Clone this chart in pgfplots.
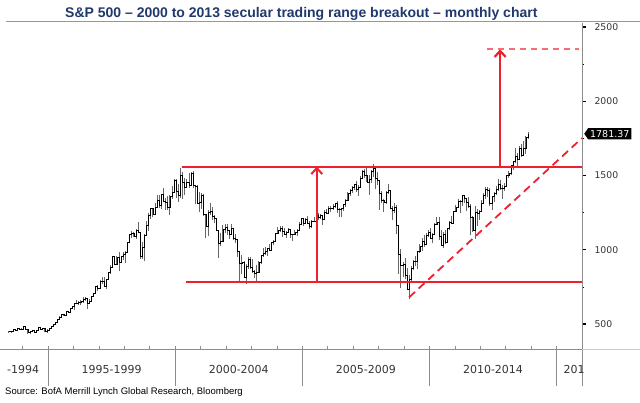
\documentclass[border=0pt]{standalone}
\usepackage{fontspec}
\setmainfont{Liberation Sans}
\newfontfamily\dejavu{DejaVu Sans}
\usepackage{pgfplots}
\pgfplotsset{compat=1.18}
\usepackage{pgfplotstable}
\usetikzlibrary{arrows.meta,shapes.symbols}
\definecolor{navy}{RGB}{31,56,110}
\definecolor{rline}{RGB}{238,32,45}
\definecolor{rlight}{RGB}{244,110,115}
\definecolor{sepc}{RGB}{125,155,195}
\definecolor{axgray}{RGB}{140,140,140}

\pgfplotstableread{
yr m c h l
1993 6 450.5 451 439
1993 7 448.1 451 441
1993 8 463.6 464 447
1993 9 458.9 463 452
1993 10 467.8 470 457
1993 11 461.8 469 460
1993 12 466.5 472 461
1994 1 481.6 482 463
1994 2 467.1 483 464
1994 3 445.8 468 436
1994 4 450.9 452 435
1994 5 456.5 458 445
1994 6 444.3 460 441
1994 7 458.3 459 443
1994 8 475.5 476 457
1994 9 462.7 476 460
1994 10 472.4 474 460
1994 11 453.7 474 448
1994 12 459.3 464 443
1995 1 470.4 472 459
1995 2 487.4 489 470
1995 3 500.7 503 485
1995 4 514.7 516 500
1995 5 533.4 535 511
1995 6 544.8 552 530
1995 7 562.1 564 544
1995 8 561.9 564 553
1995 9 584.4 587 560
1995 10 581.5 588 574
1995 11 605.4 608 580
1995 12 615.9 622 604
1996 1 636.0 636 597
1996 2 640.4 664 634
1996 3 645.5 656 627
1996 4 654.2 660 625
1996 5 669.1 680 645
1996 6 670.6 680 658
1996 7 639.9 672 601
1996 8 652.0 666 639
1996 9 687.3 690 649
1996 10 705.3 708 684
1996 11 757.0 758 703
1996 12 740.7 762 722
1997 1 786.2 794 737
1997 2 790.8 818 773
1997 3 757.1 816 755
1997 4 801.3 805 733
1997 5 848.3 851 798
1997 6 885.1 898 837
1997 7 954.3 957 882
1997 8 899.5 961 898
1997 9 947.3 960 897
1997 10 914.6 983 855
1997 11 955.4 961 910
1997 12 970.4 987 929
1998 1 980.3 992 912
1998 2 1049.3 1051 979
1998 3 1101.8 1106 1045
1998 4 1111.8 1124 1077
1998 5 1090.8 1122 1085
1998 6 1133.8 1139 1075
1998 7 1120.7 1190 1117
1998 8 957.3 1121 939
1998 9 1017.0 1052 940
1998 10 1098.7 1104 923
1998 11 1163.6 1193 1093
1998 12 1229.2 1245 1129
1999 1 1279.6 1280 1205
1999 2 1238.3 1282 1220
1999 3 1286.4 1317 1234
1999 4 1335.2 1370 1281
1999 5 1301.8 1368 1281
1999 6 1372.7 1374 1277
1999 7 1328.7 1419 1328
1999 8 1320.4 1347 1268
1999 9 1282.7 1362 1268
1999 10 1362.9 1367 1233
1999 11 1388.9 1428 1342
1999 12 1469.3 1474 1387
2000 1 1394.5 1478 1351
2000 2 1366.4 1445 1325
2000 3 1498.6 1553 1346
2000 4 1452.4 1527 1339
2000 5 1420.6 1481 1370
2000 6 1454.6 1475 1415
2000 7 1430.8 1517 1414
2000 8 1517.7 1525 1430
2000 9 1436.5 1531 1419
2000 10 1429.4 1437 1305
2000 11 1315.2 1434 1315
2000 12 1320.3 1390 1254
2001 1 1366.0 1384 1275
2001 2 1239.9 1377 1228
2001 3 1160.3 1242 1082
2001 4 1249.5 1269 1091
2001 5 1255.8 1316 1236
2001 6 1224.4 1286 1203
2001 7 1211.2 1236 1183
2001 8 1133.6 1217 1124
2001 9 1040.9 1136 945
2001 10 1059.8 1111 1026
2001 11 1139.5 1164 1054
2001 12 1148.1 1173 1114
2002 1 1130.2 1176 1101
2002 2 1106.7 1131 1074
2002 3 1147.4 1173 1106
2002 4 1076.9 1147 1063
2002 5 1067.1 1107 1049
2002 6 989.8 1070 952
2002 7 911.6 994 776
2002 8 916.1 965 838
2002 9 815.3 924 815
2002 10 885.8 907 769
2002 11 936.3 951 873
2002 12 879.8 954 872
2003 1 855.7 935 841
2003 2 841.2 866 807
2003 3 848.2 896 789
2003 4 916.9 924 847
2003 5 963.6 965 903
2003 6 974.5 1015 952
2003 7 990.3 1016 962
2003 8 1008.0 1011 960
2003 9 996.0 1040 990
2003 10 1050.7 1054 994
2003 11 1058.2 1063 1031
2003 12 1111.9 1112 1056
2004 1 1131.1 1155 1105
2004 2 1144.9 1159 1123
2004 3 1126.2 1163 1088
2004 4 1107.3 1150 1105
2004 5 1120.7 1128 1076
2004 6 1140.8 1146 1113
2004 7 1101.7 1141 1079
2004 8 1104.2 1109 1060
2004 9 1114.6 1131 1099
2004 10 1130.2 1143 1090
2004 11 1173.8 1188 1128
2004 12 1211.9 1217 1173
2005 1 1181.3 1217 1163
2005 2 1203.6 1213 1180
2005 3 1180.6 1229 1176
2005 4 1156.9 1192 1137
2005 5 1191.5 1201 1147
2005 6 1191.3 1219 1188
2005 7 1234.2 1246 1183
2005 8 1220.3 1246 1201
2005 9 1228.8 1243 1205
2005 10 1207.0 1233 1168
2005 11 1249.5 1270 1202
2005 12 1248.3 1276 1246
2006 1 1280.1 1295 1245
2006 2 1280.7 1297 1253
2006 3 1294.9 1311 1268
2006 4 1310.6 1318 1280
2006 5 1270.1 1326 1245
2006 6 1270.2 1284 1219
2006 7 1276.7 1281 1224
2006 8 1303.8 1307 1261
2006 9 1335.9 1340 1290
2006 10 1377.9 1390 1327
2006 11 1400.6 1407 1360
2006 12 1418.3 1431 1385
2007 1 1438.2 1441 1403
2007 2 1406.8 1462 1389
2007 3 1420.9 1438 1364
2007 4 1482.4 1498 1416
2007 5 1530.6 1535 1476
2007 6 1503.4 1541 1484
2007 7 1455.3 1556 1454
2007 8 1474.0 1503 1371
2007 9 1526.8 1539 1452
2007 10 1549.4 1576 1490
2007 11 1481.1 1553 1407
2007 12 1468.4 1524 1435
2008 1 1378.6 1471 1270
2008 2 1330.6 1396 1317
2008 3 1322.7 1341 1257
2008 4 1385.6 1397 1311
2008 5 1400.4 1440 1373
2008 6 1280.0 1404 1272
2008 7 1267.4 1293 1200
2008 8 1282.8 1314 1247
2008 9 1166.4 1304 1107
2008 10 968.8 1167 840
2008 11 896.2 1007 741
2008 12 903.3 918 816
2009 1 825.9 944 805
2009 2 735.1 877 735
2009 3 797.9 833 667
2009 4 872.8 889 783
2009 5 919.1 930 866
2009 6 919.3 956 888
2009 7 987.5 993 869
2009 8 1020.6 1039 979
2009 9 1057.1 1081 992
2009 10 1036.2 1101 1020
2009 11 1095.6 1113 1030
2009 12 1115.1 1130 1086
2010 1 1073.9 1150 1071
2010 2 1104.5 1113 1045
2010 3 1169.4 1180 1105
2010 4 1186.7 1220 1170
2010 5 1089.4 1219 1066
2010 6 1030.7 1131 1028
2010 7 1101.6 1120 1011
2010 8 1049.3 1130 1040
2010 9 1141.2 1150 1049
2010 10 1183.3 1196 1131
2010 11 1180.6 1227 1174
2010 12 1257.6 1263 1174
2011 1 1286.1 1302 1257
2011 2 1327.2 1345 1290
2011 3 1325.8 1332 1249
2011 4 1363.6 1366 1295
2011 5 1345.2 1371 1312
2011 6 1320.6 1346 1259
2011 7 1292.3 1357 1283
2011 8 1218.9 1307 1101
2011 9 1131.4 1230 1120
2011 10 1253.3 1293 1075
2011 11 1247.0 1277 1158
2011 12 1257.6 1269 1203
2012 1 1312.4 1334 1259
2012 2 1365.7 1379 1310
2012 3 1408.5 1420 1340
2012 4 1397.9 1422 1358
2012 5 1310.3 1415 1292
2012 6 1362.2 1364 1267
2012 7 1379.3 1392 1325
2012 8 1406.6 1427 1372
2012 9 1440.7 1475 1397
2012 10 1412.2 1470 1403
2012 11 1416.2 1434 1343
2012 12 1426.2 1448 1398
2013 1 1498.1 1504 1426
2013 2 1514.7 1531 1485
2013 3 1569.2 1570 1501
2013 4 1597.6 1598 1536
2013 5 1630.7 1687 1581
2013 6 1606.3 1654 1560
2013 7 1685.7 1698 1605
2013 8 1633.0 1710 1628
2013 9 1681.6 1730 1633
2013 10 1756.5 1765 1646
2013 11 1781.4 1790 1747
}\spx

\begin{document}
\begin{tikzpicture}
\useasboundingbox (0pt,0pt) rectangle (640pt,-403pt);
\node[anchor=base west, text=navy, font=\bfseries\fontsize{14}{16}\selectfont, inner sep=0pt] at (65pt,-18pt) {S\&P 500 – 2000 to 2013 secular trading range breakout – monthly chart};
\draw[sepc, line width=1pt] (6pt,-21.7pt) -- (640pt,-21.7pt);
\begin{axis}[
  at={(0pt,-23pt)}, anchor=north west,
  scale only axis, width=582pt, height=326pt,
  xmin=1993.11, xmax=2016.0, ymin=332, ymax=2527,
  clip=false,
  axis x line*=bottom, axis y line*=right,
  axis line style={-, axgray, line width=0.6pt},
  xtick=\empty,
  ytick={500,1000,1500,2000,2500},
  minor ytick={750,1250,1750,2250},
  tick align=outside,
  major tick length=4pt, minor tick length=2pt,
  every major tick/.append style={black, line width=1.3pt},
  every minor tick/.append style={black, line width=0.8pt},
  yticklabel style={font=\dejavu\fontsize{9.3}{10}\selectfont, text=black!80, anchor=west, xshift=5pt},
  /pgf/number format/assume math mode=true,
  /pgf/number format/1000 sep={},
]
\addplot[black!60, line width=0.9pt, quiver={u=0, v=\thisrow{h}-\thisrow{l}}]
  table[x expr=\thisrow{yr}+(\thisrow{m}-0.5)/12, y=l] {\spx};
\addplot[const plot, black, line width=0.7pt]
  table[x expr=\thisrow{yr}+(\thisrow{m}-0.5)/12, y=c] {\spx};

\addplot[draw=rline, line width=1.8pt] coordinates {(2000.26,1560) (2016,1560)};
\addplot[draw=rline, line width=1.8pt] coordinates {(2000.43,785) (2016,785)};
\addplot[draw=rline, line width=1.8pt, dash pattern=on 8pt off 5pt] coordinates {(2009.2,680) (2016,1752)};
\addplot[draw=rline, line width=2pt, -{Straight Barb[length=6pt,width=11pt]}] coordinates {(2005.57,785) (2005.57,1560)};
\addplot[draw=rline, line width=2.2pt, -{Straight Barb[length=6pt,width=11pt]}] coordinates {(2012.78,1560) (2012.78,2350)};
\addplot[draw=rlight, line width=1.8pt, dash pattern=on 6pt off 5pt] coordinates {(2012.26,2350) (2015.9,2350)};

\node[signal, signal to=west, signal pointer angle=110, fill=black, text=white, font=\dejavu\fontsize{9.5}{10}\selectfont, inner sep=2pt, anchor=west, xshift=2pt] at (axis cs:2016,1781.37) {1781.37};

\pgfplotsinvokeforeach{1994,...,2015}{\draw[axgray, line width=0.6pt] (axis cs:#1,332) -- ++(0pt,3pt);}
\pgfplotsinvokeforeach{1995,2000,2005,2010,2015,2016}{\draw[axgray, line width=0.6pt] (axis cs:#1,332) -- ++(0pt,-37pt);}
\draw[black!20, line width=0.6pt] (axis cs:2016,332) -- ++(60pt,0pt);

\node[anchor=base east, font=\dejavu\fontsize{11}{12}\selectfont, text=black!80, yshift=-25pt, inner sep=0pt] at (axis cs:1994.66,332) {-1994};
\node[anchor=base, font=\dejavu\fontsize{11}{12}\selectfont, text=black!80, yshift=-25pt] at (axis cs:1997.5,332) {1995-1999};
\node[anchor=base, font=\dejavu\fontsize{11}{12}\selectfont, text=black!80, yshift=-25pt] at (axis cs:2002.5,332) {2000-2004};
\node[anchor=base, font=\dejavu\fontsize{11}{12}\selectfont, text=black!80, yshift=-25pt] at (axis cs:2007.5,332) {2005-2009};
\node[anchor=base, font=\dejavu\fontsize{11}{12}\selectfont, text=black!80, yshift=-25pt] at (axis cs:2012.5,332) {2010-2014};
\node[anchor=base west, font=\dejavu\fontsize{11}{12}\selectfont, text=black!80, yshift=-25pt, inner sep=0pt] at (axis cs:2015.27,332) {201};
\end{axis}
\node[anchor=base west, font=\fontsize{9.5}{10}\selectfont, inner sep=0pt] at (5pt,-394pt) {Source: BofA Merrill Lynch Global Research, Bloomberg};
\end{tikzpicture}
\end{document}
